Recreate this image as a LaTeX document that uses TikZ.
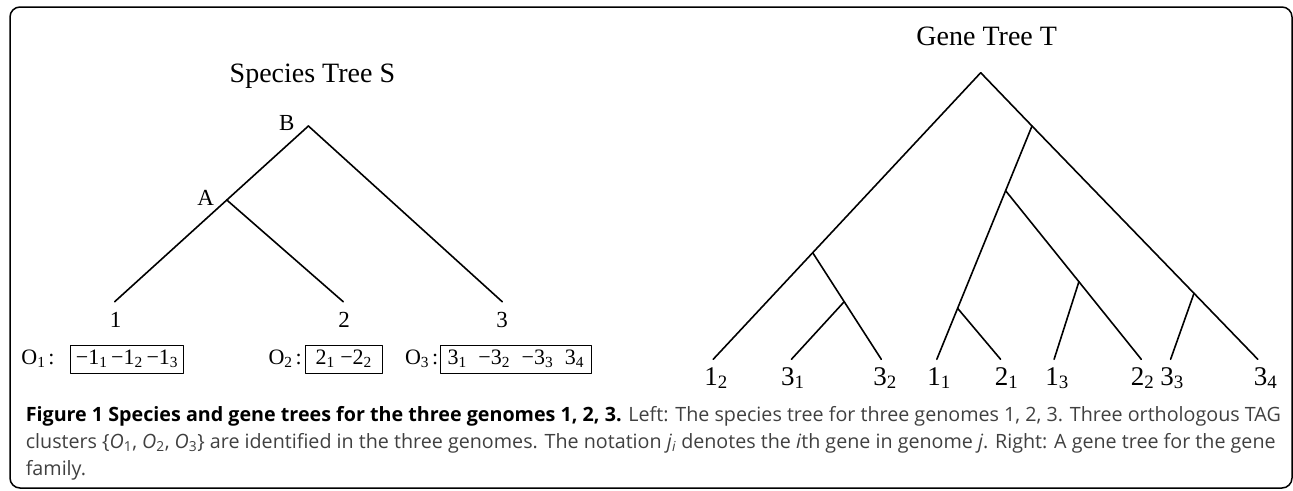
\documentclass[tikz,border=0pt]{standalone}
\usepackage{fontspec}
\setmainfont{Liberation Serif}
\newfontfamily\capfont{Open Sans}

\begin{document}
\begin{tikzpicture}[x=1pt, y=-1pt, line width=1.6pt, line cap=round, line join=round,
  frame/.style={line width=1.5pt, rounded corners=10pt},
  ttl/.style={anchor=base, inner sep=0pt, font=\fontsize{28}{33}\selectfont},
  inlab/.style={anchor=base, inner sep=0pt, font=\fontsize{23}{28}\selectfont},
  leaflab/.style={anchor=base, inner sep=0pt, font=\fontsize{27}{32}\selectfont},
  olab/.style={anchor=base east, inner sep=0pt, font=\fontsize{22}{26}\selectfont},
  obox/.style={draw, line width=1pt, anchor=west, minimum height=28pt, inner sep=2pt, font=\fontsize{22}{26}\selectfont},
  capline/.style={anchor=base west, inner sep=0pt, text=black!75, font=\capfont\fontsize{19.7}{27}\selectfont}]

  %% ════ frame ════
  \draw[frame] (10,7) rectangle (1292,488);

  %% ════ species tree S ════
  \node[ttl] (stitle) at (312.4,82) {Species Tree S};
  \coordinate (sB) at (308.4,126);
  \coordinate (sA) at (226.8,200);
  \coordinate (s1) at (114.7,301.7);
  \coordinate (s2) at (343.2,301.7);
  \coordinate (s3) at (502.2,301.7);
  \draw (sB) -- (sA) -- (s1);
  \draw (sA) -- (s2);
  \draw (sB) -- (s3);
  \node[inlab] (labB) at (286.7,130) {B};
  \node[inlab] (labA) at (205.6,205) {A};
  \node[inlab] (lab1) at (115.5,327) {1};
  \node[inlab] (lab2) at (344.0,327) {2};
  \node[inlab] (lab3) at (502.2,327) {3};

  % orthologous clusters
  \node[olab] (o1) at (55.4,364) {O\textsubscript{1}\hspace{3pt}:};
  \node[olab] (o2) at (302.5,364) {O\textsubscript{2}\hspace{3pt}:};
  \node[olab] (o3) at (439.0,364) {O\textsubscript{3}\hspace{3pt}:};
  \node[obox, minimum width=112.3pt] (box1) at (70.4,359) {−1\textsubscript{1}\,−1\textsubscript{2}\,−1\textsubscript{3}};
  \node[obox, minimum width=77.5pt] (box2) at (304.5,359) {2\textsubscript{1} −2\textsubscript{2}};
  \node[obox, minimum width=151.3pt] (box3) at (439.7,359) {3\textsubscript{1}\; −3\textsubscript{2}\; −3\textsubscript{3}\; 3\textsubscript{4}};

  %% ════ gene tree T ════
  \node[ttl] (gtitle) at (986.7,45) {Gene Tree T};
  \coordinate (gR) at (980.7,72.7);
  \coordinate (gL1) at (812.7,252.7);
  \coordinate (gL2) at (844.2,301.7);
  \coordinate (gR1) at (1032.0,126);
  \coordinate (gR2) at (1005.6,190.7);
  \coordinate (gR3) at (957.6,308.3);
  \coordinate (gR4) at (1078.9,281.7);
  \coordinate (gR5) at (1194.0,293.3);
  \coordinate (g12) at (713.2,359.3);
  \coordinate (g31) at (791.4,359.3);
  \coordinate (g32) at (881.3,359.3);
  \coordinate (g11) at (936.8,359.3);
  \coordinate (g21) at (1000.6,359.3);
  \coordinate (g13) at (1054.1,359.3);
  \coordinate (g22) at (1141.3,359.3);
  \coordinate (g33) at (1170.6,359.3);
  \coordinate (g34) at (1257.8,359.3);
  \draw (gR) -- (gL1) -- (g12);
  \draw (gL1) -- (gL2) -- (g32);
  \draw (gL2) -- (g31);
  \draw (gR) -- (gR1) -- (gR5) -- (g34);
  \draw (gR5) -- (g33);
  \draw (gR1) -- (gR2) -- (gR3) -- (g11);
  \draw (gR3) -- (g21);
  \draw (gR2) -- (gR4) -- (g22);
  \draw (gR4) -- (g13);

  \node[leaflab] (t12) at (716.0,385) {1\textsubscript{2}};
  \node[leaflab] (t31) at (792.8,385) {3\textsubscript{1}};
  \node[leaflab] (t32) at (885.0,385) {3\textsubscript{2}};
  \node[leaflab] (t11) at (939.0,385) {1\textsubscript{1}};
  \node[leaflab] (t21) at (1006.6,385) {2\textsubscript{1}};
  \node[leaflab] (t13) at (1057.0,385) {1\textsubscript{3}};
  \node[leaflab] (t22) at (1142.6,385) {2\textsubscript{2}};
  \node[leaflab] (t33) at (1172.0,385) {3\textsubscript{3}};
  \node[leaflab] (t34) at (1265.6,385) {3\textsubscript{4}};

  %% ════ caption ════
  \node[capline] (cap1) at (25,421) {\textcolor{black}{\textbf{Figure 1 Species and gene trees for the three genomes 1, 2, 3.}} Left: The species tree for three genomes 1, 2, 3. Three orthologous TAG};
  \node[capline] (cap2) at (25,448) {clusters \{\textit{O}\textsubscript{1}, \textit{O}\textsubscript{2}, \textit{O}\textsubscript{3}\} are identified in the three genomes. The notation \textit{j}\textsubscript{\textit{i}} denotes the \textit{i}th gene in genome \textit{j}. Right: A gene tree for the gene};
  \node[capline] (cap3) at (25,475) {family.};

  \pgfresetboundingbox
  \path[use as bounding box] (0,0) rectangle (1293,490);
\end{tikzpicture}
\end{document}
